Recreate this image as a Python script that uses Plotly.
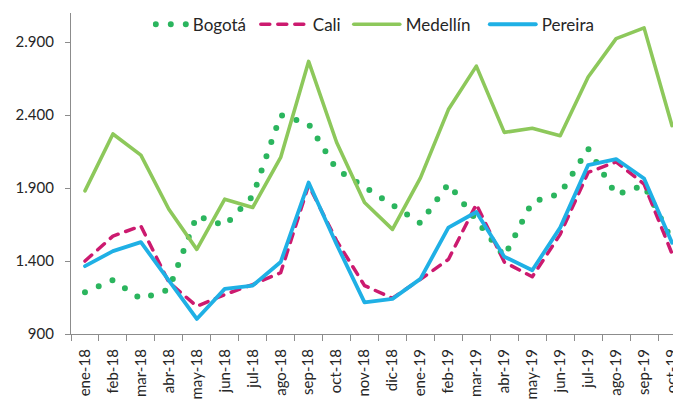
import plotly.graph_objects as go

months = ["ene-18", "feb-18", "mar-18", "abr-18", "may-18", "jun-18", "jul-18",
          "ago-18", "sep-18", "oct-18", "nov-18", "dic-18", "ene-19", "feb-19",
          "mar-19", "abr-19", "may-19", "jun-19", "jul-19", "ago-19", "sep-19", "oct-19"]

bogota = [1186, 1270, 1140, 1205, 1710, 1643, 1845, 2400, 2340, 2027, 1908, 1785,
          1660, 1930, 1678, 1431, 1805, 1862, 2170, 1855, 1920, 1540]
cali = [1400, 1571, 1640, 1255, 1090, 1170, 1239, 1320, 1920, 1540, 1232, 1145,
        1275, 1411, 1789, 1393, 1292, 1583, 2007, 2080, 1927, 1450]
medellin = [1881, 2271, 2126, 1755, 1480, 1824, 1767, 2110, 2768, 2214, 1801, 1617,
            1970, 2438, 2736, 2282, 2310, 2259, 2661, 2924, 2998, 2328]
pereira = [1365, 1468, 1530, 1262, 1003, 1209, 1232, 1393, 1938, 1515, 1117, 1141,
           1278, 1629, 1736, 1430, 1337, 1629, 2058, 2099, 1966, 1526]

y_tickvals = [900, 1400, 1900, 2400, 2900]
y_ticktext = ["900", "1.400", "1.900", "2.400", "2.900"]

FONT = "Lato"
TXT = "#262626"
AX = "#8c8c8c"

fig = go.Figure()
fig.add_trace(go.Scatter(x=months, y=bogota, name="Bogotá", mode="lines", legendwidth=75,
                         line=dict(color="#2bb55e", width=6, dash="0px,15px")))
fig.add_trace(go.Scatter(x=months, y=cali, name="Cali", mode="lines", legendwidth=48,
                         line=dict(color="#cc1a6f", width=3.5, dash="9px,8px")))
fig.add_trace(go.Scatter(x=months, y=medellin, name="Medellín", mode="lines", legendwidth=91,
                         line=dict(color="#8dc85b", width=3.6)))
fig.add_trace(go.Scatter(x=months, y=pereira, name="Pereira", mode="lines", legendwidth=60,
                         line=dict(color="#1fb0e5", width=3.8)))

fig.update_layout(
    width=681, height=401,
    margin=dict(l=63, r=3, t=5, b=75, autoexpand=False),
    paper_bgcolor="white", plot_bgcolor="white",
    font=dict(family=FONT, size=15, color=TXT),
    showlegend=True,
    legend=dict(orientation="h", x=0.133, xanchor="left", y=0.9636, yanchor="middle",
                bgcolor="rgba(0,0,0,0)", font=dict(family=FONT, size=17, color=TXT),
                itemwidth=30, traceorder="normal"),
    xaxis=dict(type="category", range=[-0.5, 21.5], showgrid=False,
               showline=True, linecolor=AX, linewidth=1.3,
               ticks="outside", tickson="boundaries", ticklen=6, tickcolor=AX, tickwidth=1.3,
               tickangle=-90, tickfont=dict(family=FONT, size=15, color=TXT),
               ticklabelstandoff=8, automargin=False),
    yaxis=dict(range=[900, 3100], showgrid=False, zeroline=False,
               showline=True, linecolor=AX, linewidth=1.3,
               ticks="outside", ticklen=5, tickcolor=AX, tickwidth=1.3,
               tickvals=y_tickvals, ticktext=y_ticktext,
               tickfont=dict(family=FONT, size=15, color=TXT),
               ticklabelstandoff=8, automargin=False),
)

post = """
var gd = document.getElementById('{plot_id}');
function fixCaps(){
  document.querySelectorAll('path.js-line').forEach(function(p){
    p.style.strokeLinecap = 'round';
    p.style.strokeLinejoin = 'round';
  });
  document.querySelectorAll('.legendlines path').forEach(function(p){
    p.setAttribute('d', 'M-12,0h46');
    p.style.strokeLinecap = 'round';
  });
}
fixCaps();
if (gd && gd.on) { gd.on('plotly_afterplot', fixCaps); }
"""

fig.write_html("out.html", post_script=post)
